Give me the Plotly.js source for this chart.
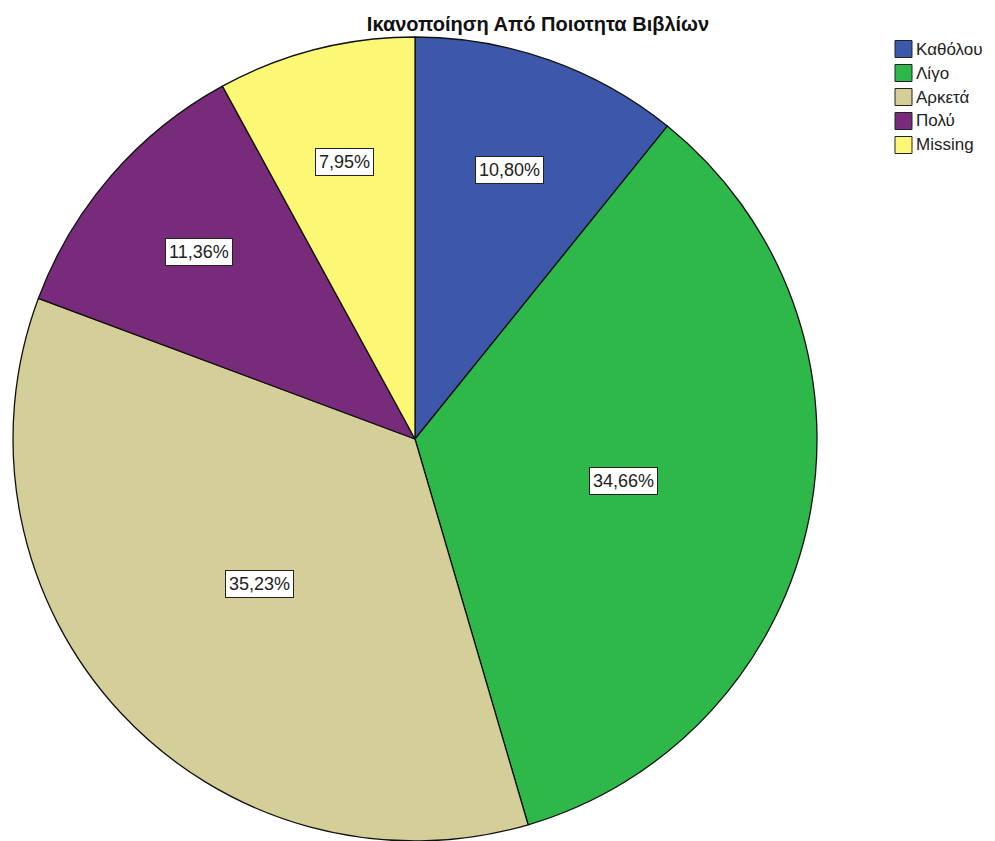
<!DOCTYPE html>
<html>
<head>
<meta charset="utf-8">
<script src="https://cdn.plot.ly/plotly-3.0.1.min.js"></script>
<style>html,body{margin:0;padding:0;background:#fff;}#chart{width:995px;height:841px;}</style>
</head>
<body>
<div id="chart"></div>
<script>
const chartTitle = 'Ικανοποίηση Από Ποιοτητα Βιβλίων';
const labels = ['Καθόλου', 'Λίγο', 'Αρκετά', 'Πολύ', 'Missing'];
const values = [10.80, 34.66, 35.23, 11.36, 7.95];
const colors = ['#3D58AB', '#2FB84A', '#D4CE99', '#782A7B', '#FCF875'];

const W = 995, H = 841;
const M = {l: 12, r: 177, t: 37, b: 0};
const PW = W - M.l - M.r, PH = H - M.t - M.b;
const px2x = px => (px - M.l) / PW;
const py2y = py => 1 - (py - M.t) / PH;

const fmt = v => v.toFixed(2).replace('.', ',') + '%';
const total = values.reduce((a, b) => a + b, 0);

const annotations = [];
const shapes = [];

// slice labels placed at mid-angle of each slice
const R = Math.min(PW, PH) / 2;
const cx = M.l + PW / 2, cy = M.t + PH / 2;
let cum = 0;
values.forEach((v, i) => {
  const frac = v / total;
  const mid = (cum + frac / 2) * 2 * Math.PI;
  cum += frac;
  const rf = frac > 0.2 ? 0.53 : 0.71;
  const px = cx + R * rf * Math.sin(mid);
  const py = cy - R * rf * Math.cos(mid);
  annotations.push({
    xref: 'paper', yref: 'paper', x: px2x(px), y: py2y(py),
    xanchor: 'center', yanchor: 'middle', showarrow: false,
    text: fmt(v),
    font: {family: 'Liberation Sans, Arial, sans-serif', size: 18, color: '#222'},
    bgcolor: '#ffffff', bordercolor: '#222', borderwidth: 1, borderpad: 3
  });
});

// custom legend
labels.forEach((lab, i) => {
  const yc = 49 + 24 * i;
  shapes.push({
    type: 'rect', xref: 'paper', yref: 'paper',
    x0: px2x(895), x1: px2x(912), y0: py2y(yc - 8.5), y1: py2y(yc + 8.5),
    fillcolor: colors[i], line: {color: '#222', width: 1}
  });
  annotations.push({
    xref: 'paper', yref: 'paper', x: px2x(914), y: py2y(yc),
    xanchor: 'left', yanchor: 'middle', showarrow: false,
    text: lab,
    font: {family: 'Liberation Sans, Arial, sans-serif', size: 17, color: '#222'}
  });
});

const data = [{
  type: 'pie',
  labels: labels,
  values: values,
  sort: false,
  direction: 'clockwise',
  rotation: 0,
  textinfo: 'none',
  hoverinfo: 'none',
  showlegend: false,
  marker: {colors: colors, line: {color: '#111', width: 1.3}},
  domain: {x: [0, 1], y: [0, 1]}
}];

const layout = {
  width: W, height: H,
  margin: M,
  paper_bgcolor: '#fff',
  showlegend: false,
  title: {
    text: '<b>' + chartTitle + '</b>',
    x: 538 / W, xref: 'container', xanchor: 'center',
    y: 1 - 24 / H, yref: 'container', yanchor: 'middle',
    font: {family: 'Liberation Sans, Arial, sans-serif', size: 20, color: '#111'}
  },
  annotations: annotations,
  shapes: shapes
};

Plotly.newPlot('chart', data, layout, {displayModeBar: false, staticPlot: true});
</script>
</body>
</html>
